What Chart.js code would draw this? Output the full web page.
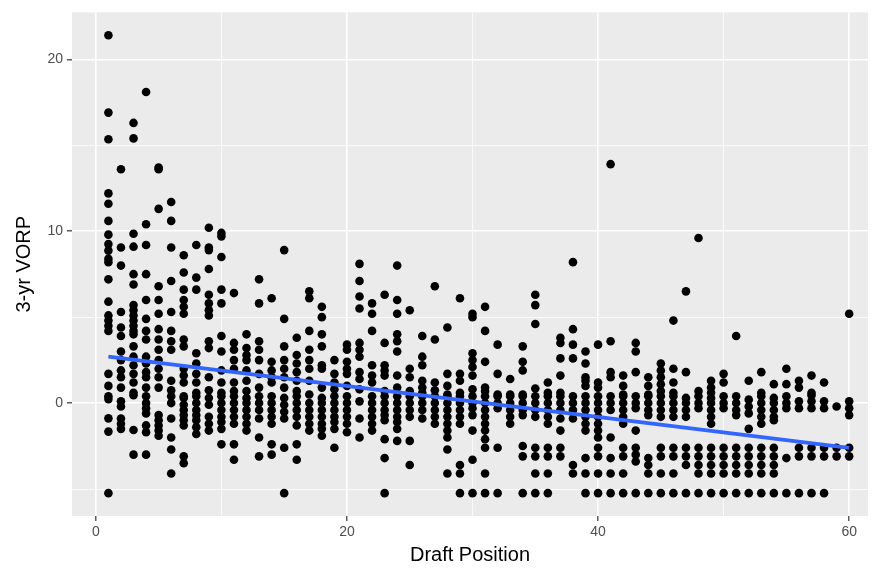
<!DOCTYPE html>
<html>
<head>
<meta charset="utf-8">
<script src="https://cdn.jsdelivr.net/npm/chart.js@4.4.1/dist/chart.umd.min.js"></script>
<style>
  html, body { margin: 0; padding: 0; background: #ffffff; }
  #wrap { width: 882px; height: 569px; }
</style>
</head>
<body>
<div id="wrap"><canvas id="vorpchart" width="882" height="569"></canvas></div>
<script>
// 3-yr VORP per draft pick (pick 1 .. 60)
const vorpByPick = [
  [21.4, 16.9, 15.35, 12.2, 11.6, 10.6, 9.8, 9.25, 8.87, 8.4, 8.2, 7.2, 5.9, 5.1, 4.8, 4.5, 4.2, 1.7, 1.0, 0.4, 0.23, -0.89, -1.66, -5.24],
  [13.6, 9.05, 8.0, 5.3, 4.4, 3.9, 3.0, 2.5, 1.9, 1.5, 0.9, 0.1, -0.2, -0.9, -1.2, -1.5],
  [16.3, 15.4, 9.85, 9.1, 7.5, 6.9, 5.7, 5.4, 5.1, 4.8, 4.5, 4.2, 4.0, 3.3, 2.7, 2.2, 1.7, 1.2, 0.6, 0.46, -1.57, -3.0],
  [18.1, 10.4, 9.2, 7.5, 6.0, 4.9, 4.2, 3.7, 2.7, 2.3, 1.8, 1.5, 0.9, 0.4, 0.0, -0.3, -0.6, -1.3, -1.7, -3.0],
  [13.7, 13.6, 11.3, 6.8, 6.0, 5.2, 4.3, 3.7, 3.1, 2.5, 2.0, 1.5, 0.9, -0.7, -1.0, -1.3, -1.6, -1.9],
  [11.7, 10.6, 9.05, 7.1, 5.3, 4.2, 3.6, 3.1, 1.3, 0.75, 0.4, 0.0, -0.9, -2.0, -2.7, -4.1],
  [8.6, 7.6, 6.6, 6.0, 5.6, 5.2, 3.7, 3.3, 2.0, 1.6, 1.2, 0.4, 0.3, -0.1, -0.4, -0.7, -1.0, -1.3, -3.1, -3.5],
  [9.2, 7.3, 6.6, 2.9, 2.3, 1.7, 1.2, 0.6, 0.4, 0.0, -0.4, -0.7, -1.0, -1.4, -1.8],
  [10.2, 9.05, 8.9, 7.8, 6.3, 5.8, 5.4, 5.1, 3.6, 3.2, 1.5, 0.75, 0.3, -0.1, -0.8, -1.2, -1.6],
  [9.9, 9.7, 8.5, 6.6, 5.8, 3.9, 3.0, 1.9, 1.2, 0.6, 0.4, 0.0, -0.4, -0.8, -1.1, -1.5, -2.4],
  [6.4, 3.5, 3.1, 2.5, 2.0, 1.2, 0.7, 0.4, 0.0, -0.4, -0.8, -1.2, -2.4, -3.3],
  [4.0, 3.2, 2.8, 2.5, 1.9, 1.3, 0.7, 0.3, 0.0, -0.4, -0.8, -1.2, -1.6],
  [7.2, 5.8, 3.6, 3.1, 2.5, 1.7, 0.9, 0.4, 0.0, -0.4, -0.9, -2.0, -3.1],
  [6.1, 2.4, 1.9, 1.5, 1.2, 0.4, 0.0, -0.4, -0.8, -1.2, -2.4, -3.0],
  [8.9, 4.9, 3.3, 2.5, 2.0, 1.5, 0.9, 0.3, -0.1, -0.5, -0.9, -2.6, -5.24],
  [3.8, 2.8, 2.3, 1.8, 1.3, 0.7, 0.4, 0.0, -0.4, -0.8, -1.3, -2.4, -3.3],
  [6.5, 6.1, 4.2, 3.1, 2.5, 2.0, 1.3, 0.5, 0.0, -0.4, -0.8, -1.2, -1.6],
  [5.6, 5.0, 4.0, 3.3, 2.2, 2.0, 0.9, 0.3, 0.0, -0.4, -0.8, -1.2, -1.5, -1.9],
  [2.5, 1.7, 1.2, 0.8, 0.4, 0.0, -0.4, -0.8, -1.1, -1.5, -2.6],
  [3.4, 3.1, 2.4, 2.0, 1.7, 1.0, 0.4, 0.0, -0.4, -0.8, -1.2, -1.7],
  [8.1, 7.1, 6.2, 5.5, 3.5, 3.1, 2.7, 1.8, 1.4, 0.8, 0.1, -0.9, -2.0],
  [5.8, 5.2, 4.2, 2.2, 1.6, 1.2, 0.4, 0.0, -0.4, -0.8, -1.2, -1.6],
  [6.3, 3.5, 2.2, 1.9, 1.6, 0.7, 0.4, 0.0, -0.4, -0.7, -1.0, -2.1, -3.2, -5.24],
  [8.0, 6.0, 5.2, 4.0, 3.6, 3.0, 1.6, 0.9, 0.4, 0.0, -0.4, -0.8, -1.1, -1.5, -2.2],
  [5.4, 2.0, 1.5, 0.7, 0.4, 0.0, -0.4, -0.8, -2.2, -3.6],
  [3.9, 2.7, 2.2, 1.3, 0.9, 0.6, 0.4, 0.0, -0.4, -0.9],
  [6.8, 3.7, 1.2, 0.75, 0.4, 0.0, -0.4, -0.8, -1.2],
  [4.4, 1.7, 1.0, 0.5, 0.4, 0.0, -0.4, -0.8, -1.2, -1.6, -2.0, -2.7, -4.1],
  [6.1, 1.7, 1.3, 0.6, 0.4, 0.0, -0.4, -0.8, -1.2, -3.6, -4.1, -5.24],
  [5.2, 5.0, 2.9, 2.5, 2.1, 1.6, 0.8, 0.4, 0.0, -0.3, -0.7, -1.6, -3.3, -5.24],
  [5.6, 4.2, 2.4, 0.9, 0.7, 0.4, 0.0, -0.4, -0.8, -1.2, -1.6, -2.1, -2.6, -4.1, -5.24],
  [3.4, 1.7, 0.5, 0.4, 0.0, -0.3, -2.6, -5.24],
  [1.4, 0.5, 0.4, 0.0, -0.4, -0.8, -1.2],
  [3.3, 2.4, 1.9, 0.5, 0.4, 0.0, -0.4, -0.7, -2.5, -3.1, -5.24],
  [6.3, 5.7, 4.6, 0.85, 0.4, 0.0, -0.4, -0.8, -2.6, -3.1, -4.1, -5.24],
  [1.2, 0.6, 0.4, 0.0, -0.4, -0.8, -1.2, -2.6, -3.1, -4.1, -5.24],
  [3.8, 3.5, 2.6, 1.6, 0.6, 0.4, 0.0, -0.4, -0.9, -1.6, -2.6, -3.1],
  [8.2, 4.3, 3.4, 2.6, 0.4, 0.0, -0.4, -0.9, -3.6, -4.1],
  [3.0, 2.3, 1.5, 1.3, 1.0, 0.4, 0.0, -0.4, -0.8, -1.2, -1.6, -3.2, -4.1, -5.24],
  [3.4, 1.2, 0.9, 0.4, 0.0, -0.4, -0.8, -1.2, -1.6, -2.0, -2.6, -3.1, -4.1, -5.24],
  [13.9, 3.6, 1.8, 1.5, 0.4, 0.0, -0.4, -2.0, -3.2, -4.1, -5.24],
  [1.6, 1.0, 0.5, 0.4, 0.0, -0.4, -0.8, -1.2, -2.6, -3.1, -4.1, -5.24],
  [3.5, 3.0, 1.8, 0.4, 0.0, -0.3, -1.6, -2.6, -3.0, -3.4, -5.24],
  [1.5, 1.0, 0.5, 0.4, 0.0, -0.4, -0.7, -3.2, -3.6, -4.1, -5.24],
  [2.3, 1.9, 1.5, 1.1, 0.7, 0.4, 0.0, -0.4, -0.8, -2.6, -3.1, -4.1, -5.24],
  [4.8, 2.0, 1.2, 0.6, 0.4, 0.0, -0.4, -0.8, -2.6, -3.1, -4.1, -5.24],
  [6.5, 1.8, 0.3, 0.0, -0.4, -0.8, -2.6, -3.1, -3.6, -5.24],
  [9.6, 0.7, 0.4, 0.0, -0.3, -2.6, -3.1, -3.6, -4.1, -5.24],
  [1.3, 0.9, 0.6, 0.3, 0.0, -0.4, -0.8, -1.2, -2.6, -3.1, -3.6, -4.1, -5.24],
  [1.7, 1.2, 0.4, 0.0, -0.3, -2.6, -3.1, -3.6, -4.1, -5.24],
  [3.9, 0.4, 0.0, -0.4, -0.7, -2.6, -3.1, -3.6, -4.1, -5.24],
  [1.3, 0.2, -0.2, -0.6, -1.5, -2.6, -3.1, -3.6, -4.1, -5.24],
  [1.8, 0.6, 0.4, 0.0, -0.4, -0.8, -1.2, -2.6, -3.1, -3.6, -4.1, -5.24],
  [1.1, 0.3, 0.0, -0.4, -0.8, -1.0, -2.6, -3.1, -3.6, -4.1, -5.24],
  [2.0, 1.1, 0.4, 0.0, -0.3, -3.2, -5.24],
  [1.3, 0.9, 0.1, -0.3, -2.6, -3.1, -5.24],
  [1.6, 0.6, 0.46, 0.1, -0.3, -2.6, -3.1, -5.24],
  [1.2, 0.1, -0.3, -2.6, -3.1, -5.24],
  [-0.2, -2.6, -3.1],
  [5.2, 0.1, -0.3, -0.7, -2.6, -3.1]
];

// linear fit (blue line), ends
const fitX = [1, 60];
const fitY = [2.7, -2.6];

const xTicks = [0, 10, 20, 30, 40, 50, 60];
const yTicks = [-5, 0, 5, 10, 15, 20];
const xLabelled = [0, 20, 40, 60];
const yLabelled = [0, 10, 20];

window.onload = function() {

    let points = [];
    vorpByPick.forEach((vals, i) => {
        vals.forEach(v => points.push({x: i + 1, y: v}));
    });
    let fitLine = fitX.map((x, i) => ({x: x, y: fitY[i]}));

    // grey ggplot panel
    const panelBg = {
        id: 'panelBg',
        beforeDraw(chart) {
            const a = chart.chartArea;
            const ctx = chart.ctx;
            ctx.save();
            ctx.fillStyle = '#EBEBEB';
            ctx.fillRect(a.left, a.top, a.right - a.left, a.bottom - a.top);
            ctx.restore();
        }
    };

    function gridOpts(labelled) {
        return {
            color: '#FFFFFF',
            lineWidth: c => labelled.includes(c.tick.value) ? 1.6 : 0.8,
            tickColor: c => labelled.includes(c.tick.value) ? '#333333' : 'rgba(0,0,0,0)',
            tickWidth: 1.2,
            tickLength: 5,
            drawOnChartArea: true
        };
    }

    const ctx = document.getElementById('vorpchart').getContext('2d');
    new Chart(ctx, {
        type: 'scatter',
        data: {
            datasets: [{
                type: 'line',
                data: fitLine,
                borderColor: '#3366FF',
                borderWidth: 3.8,
                pointRadius: 0,
                fill: false,
                order: 0
            }, {
                data: points,
                backgroundColor: '#000000',
                borderColor: '#000000',
                borderWidth: 0,
                pointRadius: 4.3,
                order: 1
            }]
        },
        options: {
            responsive: false,
            animation: false,
            events: [],
            layout: { padding: { top: 11, right: 14, left: 0, bottom: 0 } },
            plugins: { legend: { display: false }, tooltip: { enabled: false } },
            scales: {
                x: {
                    type: 'linear',
                    min: -1.9,
                    max: 61.5,
                    afterBuildTicks: s => { s.ticks = xTicks.map(v => ({value: v})); },
                    afterFit: s => { s.height = 53; },
                    border: { display: false },
                    grid: gridOpts(xLabelled),
                    ticks: {
                        autoSkip: false,
                        maxRotation: 0,
                        padding: 3,
                        color: '#4D4D4D',
                        font: { family: 'Liberation Sans', size: 14 },
                        callback: v => xLabelled.includes(v) ? String(v) : ''
                    },
                    title: {
                        display: true,
                        text: 'Draft Position',
                        color: '#000000',
                        font: { family: 'Liberation Sans', size: 20 },
                        padding: { top: 0, bottom: 2 }
                    }
                },
                y: {
                    type: 'linear',
                    min: -6.57,
                    max: 22.73,
                    afterBuildTicks: s => { s.ticks = yTicks.map(v => ({value: v})); },
                    afterFit: s => { s.width = 72; },
                    border: { display: false },
                    grid: gridOpts(yLabelled),
                    ticks: {
                        autoSkip: false,
                        padding: 4,
                        color: '#4D4D4D',
                        font: { family: 'Liberation Sans', size: 14 },
                        callback: v => yLabelled.includes(v) ? String(v) : ''
                    },
                    title: {
                        display: true,
                        text: '3-yr VORP',
                        color: '#000000',
                        font: { family: 'Liberation Sans', size: 20 },
                        padding: { top: 12, bottom: 0 }
                    }
                }
            }
        },
        plugins: [panelBg]
    });
}
</script>
</body>
</html>
